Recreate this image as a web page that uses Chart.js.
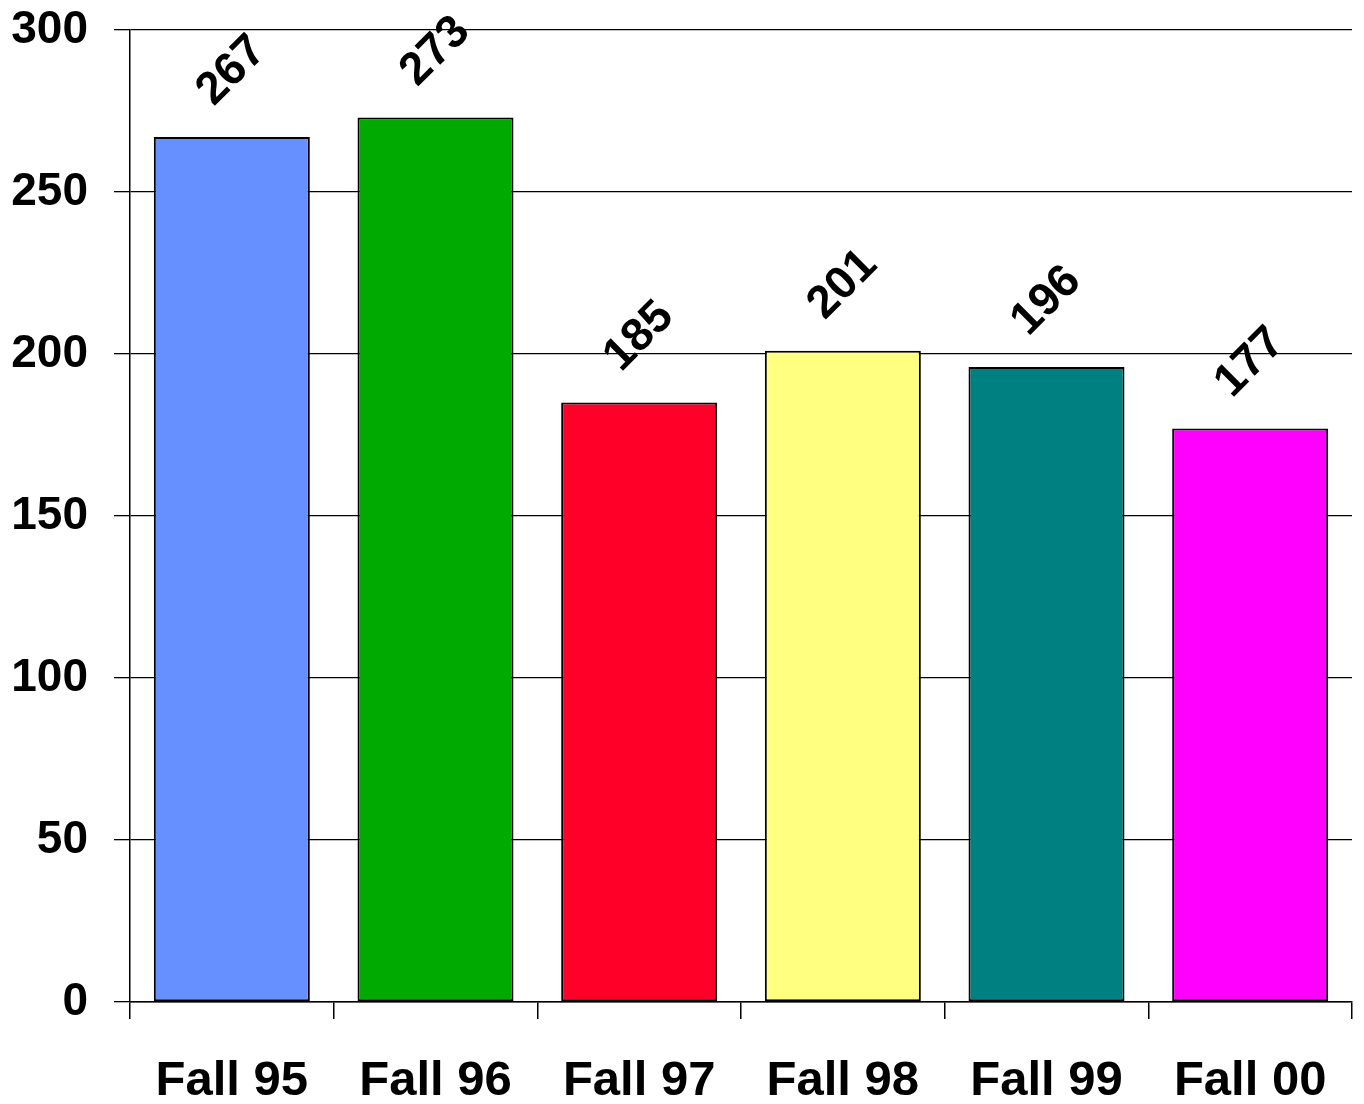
<!DOCTYPE html>
<html>
<head>
<meta charset="utf-8">
<script src="https://cdn.jsdelivr.net/npm/chart.js@4/dist/chart.umd.min.js"></script>
<style>
  body { margin: 0; background: #fff; }
  canvas { display: block; }
</style>
</head>
<body>
<canvas id="chart" width="1364" height="1104"></canvas>
<script>
const categories = ['Fall 95', 'Fall 96', 'Fall 97', 'Fall 98', 'Fall 99', 'Fall 00'];
const counts = [267, 273, 185, 201, 196, 177];
const barColors = ['#6690ff', '#00aa00', '#ff0028', '#ffff80', '#008080', '#ff00ff'];

// rotated value labels above each bar
const valueLabels = {
    id: 'valueLabels',
    afterDatasetsDraw(chart) {
        const ctx = chart.ctx;
        const meta = chart.getDatasetMeta(0);
        ctx.save();
        ctx.font = 'bold 46px "Liberation Sans", Arial, sans-serif';
        ctx.fillStyle = '#000';
        ctx.textAlign = 'center';
        ctx.textBaseline = 'middle';
        meta.data.forEach((bar, i) => {
            ctx.save();
            ctx.translate(bar.x, bar.y - 66);
            ctx.rotate(-Math.PI / 4);
            ctx.fillText(String(counts[i]), 0, 0);
            ctx.restore();
        });
        ctx.restore();
    }
};

new Chart(document.getElementById('chart').getContext('2d'), {
    type: 'bar',
    data: {
        labels: categories,
        datasets: [{
            data: counts,
            backgroundColor: barColors,
            borderColor: '#000',
            borderWidth: 2,
            borderSkipped: false,
            categoryPercentage: 1,
            barPercentage: 0.766
        }]
    },
    options: {
        responsive: false,
        animation: false,
        devicePixelRatio: 1,
        layout: { padding: { top: 30, right: 12, left: 0, bottom: 0 } },
        plugins: { legend: { display: false }, tooltip: { enabled: false } },
        scales: {
            x: {
                grid: { drawOnChartArea: false, color: '#000', lineWidth: 1.5, tickLength: 17, offset: true },
                border: { color: '#000', width: 1.5 },
                ticks: {
                    color: '#000',
                    padding: 33,
                    font: { family: '"Liberation Sans", Arial, sans-serif', size: 49, weight: 'bold' }
                },
                afterFit(scale) { scale.height = 102; }
            },
            y: {
                min: 0,
                max: 300,
                ticks: {
                    stepSize: 50,
                    color: '#000',
                    padding: 26,
                    font: { family: '"Liberation Sans", Arial, sans-serif', size: 46, weight: 'bold' }
                },
                grid: { color: '#000', lineWidth: 1.3, tickLength: 16 },
                border: { color: '#000', width: 1.5 },
                afterFit(scale) {
                    scale.width = 130;
                    scale.paddingTop = 0;
                    scale.paddingBottom = 0;
                }
            }
        }
    },
    plugins: [valueLabels]
});
</script>
</body>
</html>
